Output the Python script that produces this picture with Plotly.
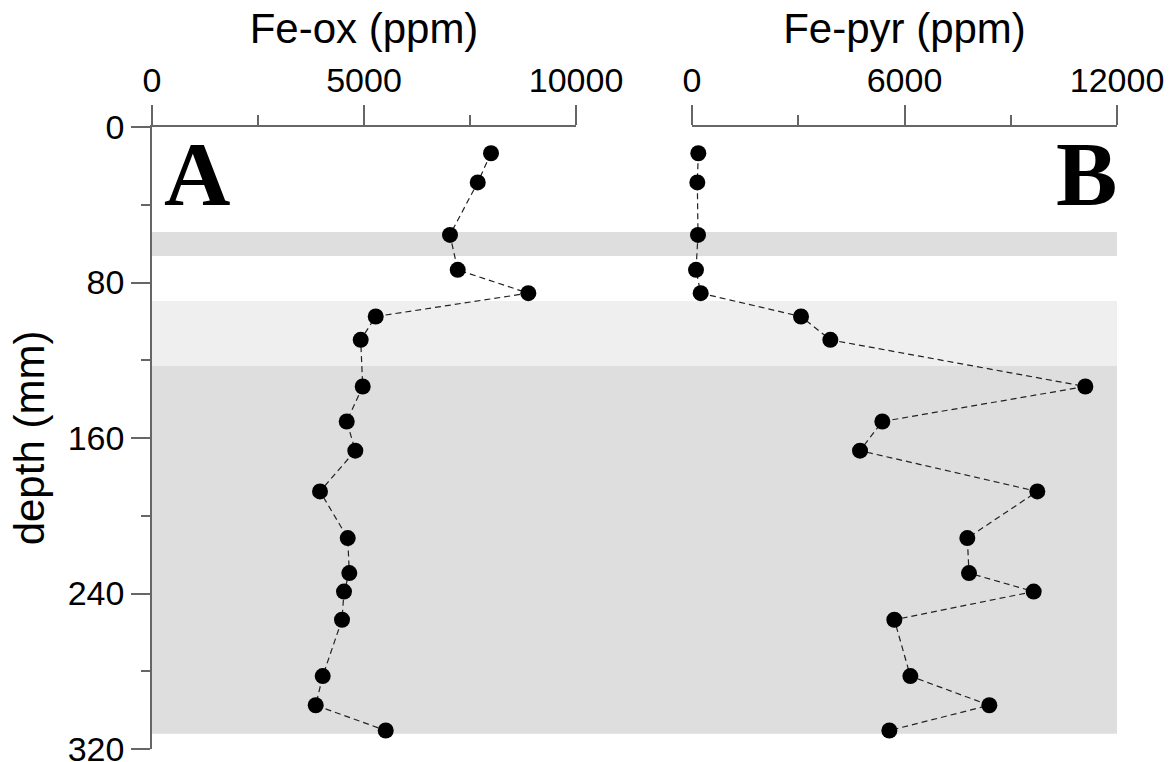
import plotly.graph_objects as go

depth = [13.5, 28.5, 55.5, 73.5, 85.5, 97.5, 109.5, 133.5, 151.5, 166.5,
         187.5, 211.5, 229.5, 239.0, 253.5, 282.5, 297.5, 310.5]
fe_ox = [7995, 7682, 7028, 7210, 8875, 5276, 4922, 4969, 4592, 4795,
         3962, 4616, 4653, 4528, 4481, 4026, 3861, 5512]
fe_pyr = [178, 150, 169, 113, 245, 3078, 3906, 11106, 5374, 4744,
          9750, 7774, 7821, 9647, 5713, 6165, 8395, 5572]

ox_ticks = [0, 5000, 10000]
pyr_ticks = [0, 6000, 12000]
depth_ticks = [0, 80, 160, 240, 320]

bands = [(54.0, 66.4, "#dedede"), (89.5, 122.8, "#efefef"), (122.8, 312.1, "#dedede")]

fig = go.Figure()
line_style = dict(color="#222222", width=1.2, dash="6px,4px")
marker_style = dict(color="black", size=16, symbol="circle")
fig.add_trace(go.Scatter(x=fe_ox, y=depth, mode="lines+markers", line=line_style,
                         marker=marker_style, xaxis="x", yaxis="y", showlegend=False,
                         cliponaxis=False))
fig.add_trace(go.Scatter(x=fe_pyr, y=depth, mode="lines+markers", line=line_style,
                         marker=marker_style, xaxis="x2", yaxis="y", showlegend=False,
                         cliponaxis=False))

for y0, y1, c in bands:
    fig.add_shape(type="rect", xref="paper", yref="y", x0=0, x1=1, y0=y0, y1=y1,
                  fillcolor=c, line=dict(width=0), layer="below")

font = "Liberation Sans, Arial, sans-serif"
axcol = "#666666"
common_x = dict(side="top", showgrid=False, zeroline=False, showline=True, automargin=False,
                linecolor=axcol, linewidth=1.5, ticks="outside", ticklen=20,
                tickcolor=axcol, tickwidth=1.5, tickfont=dict(size=34, color="black", family=font),
                ticklabeloverflow="allow",
                title_font=dict(size=42, color="black", family=font), title_standoff=4)
fig.update_layout(
    width=1170, height=762,
    margin=dict(l=152, r=53, t=127, b=13, autoexpand=False),
    plot_bgcolor="white", paper_bgcolor="white",
    xaxis=dict(domain=[0, 0.4394], range=[0, 10000], tickvals=ox_ticks,
               ticktext=[str(v) for v in ox_ticks],
               minor=dict(tickvals=[2500, 7500], ticklen=10, tickcolor=axcol, tickwidth=1.5, ticks="outside"),
               title_text="Fe-ox (ppm)", anchor="y", **common_x),
    xaxis2=dict(domain=[0.5596, 1], range=[0, 12000], tickvals=pyr_ticks,
                ticktext=[str(v) for v in pyr_ticks],
                minor=dict(tickvals=[3000, 9000], ticklen=10, tickcolor=axcol, tickwidth=1.5, ticks="outside"),
                title_text="Fe-pyr (ppm)", anchor="y", **common_x),
    yaxis=dict(range=[320, 0], tickvals=depth_ticks, ticktext=[str(v) for v in depth_ticks],
               showgrid=False, zeroline=False, automargin=False, ticklabeloverflow="allow",
               showline=True, linecolor=axcol, linewidth=1.5, ticks="outside", ticklen=19,
               tickcolor=axcol, tickwidth=1.5,
               minor=dict(tickvals=[40, 120, 200, 280], ticklen=9, tickcolor=axcol, tickwidth=1.5, ticks="outside"),
               tickfont=dict(size=34, color="black", family=font),
               title_text="depth (mm)", title_font=dict(size=42, color="black", family=font),
               title_standoff=10),
)

fig.add_annotation(text="<b>A</b>", xref="x", yref="y", x=0, y=0, xanchor="left", yanchor="top",
                   xshift=10, yshift=6, showarrow=False,
                   font=dict(family="Liberation Serif, Times New Roman, serif", size=92, color="black"))
fig.add_annotation(text="<b>B</b>", xref="x2", yref="y", x=12000, y=0, xanchor="right", yanchor="top",
                   xshift=2, yshift=6, showarrow=False,
                   font=dict(family="Liberation Serif, Times New Roman, serif", size=92, color="black"))

fig.write_html("out.html")
